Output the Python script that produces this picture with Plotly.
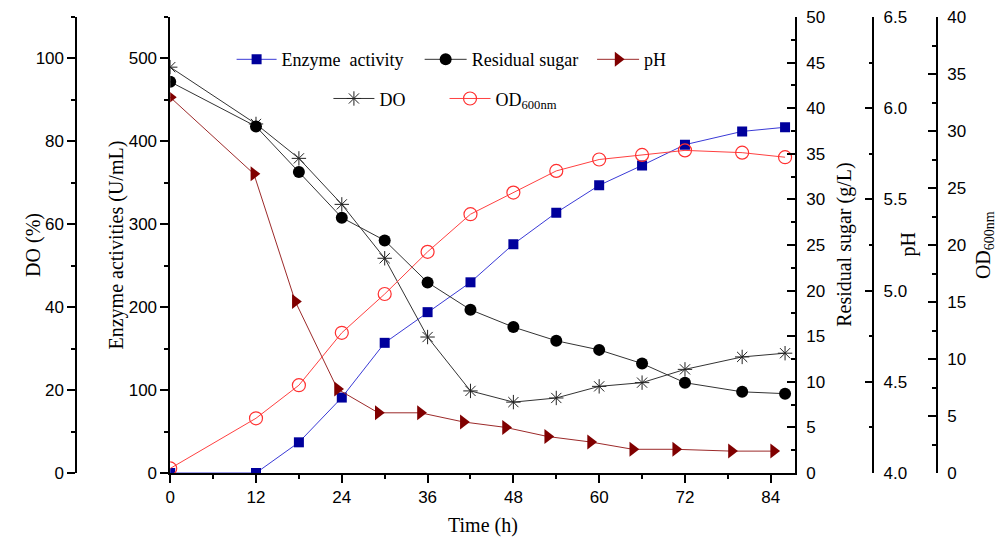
import plotly.graph_objects as go

# ---- data ----
time_h = [0, 12, 18, 24, 30, 36, 42, 48, 54, 60, 66, 72, 80, 86]
enzyme_activity = [0, 0, 37, 91, 157, 194, 230, 276, 314, 347, 371, 396, 412, 417]
residual_sugar = [42.9, 38.0, 33.0, 28.0, 25.5, 20.9, 17.9, 16.0, 14.5, 13.5, 12.0, 9.9, 8.9, 8.7]
do_percent = [97.9, 84.2, 75.9, 64.8, 51.8, 32.8, 19.8, 17.1, 18.1, 20.9, 21.8, 25.0, 28.0, 28.9]
od600 = [0.4, 4.8, 7.7, 12.3, 15.7, 19.4, 22.7, 24.6, 26.5, 27.5, 27.9, 28.3, 28.1, 27.7]
ph_time = [0, 11.7, 17.5, 23.4, 29.1, 35.0, 41.0, 46.9, 52.8, 58.8, 64.7, 70.7, 78.5, 84.4]
ph_values = [6.06, 5.64, 4.94, 4.46, 4.33, 4.33, 4.28, 4.25, 4.20, 4.17, 4.13, 4.13, 4.12, 4.12]

OFF = 8                      # page body margin of the html page
W, H = 1007 - OFF, 543 - OFF
L_PX, R_PX = 166 - OFF, 794 - OFF   # plot area in figure pixels
TOP_PX, BOT_PX = 13 - OFF, 473 - OFF
PH_PX = BOT_PX - TOP_PX
SERIF = "Liberation Serif, Times New Roman, serif"
SANS = "Liberation Sans, Arial, sans-serif"

def xp(px_page):
    return (px_page - OFF) / W

def yp(py_page):
    return (BOT_PX - (py_page - OFF)) / PH_PX

fig = go.Figure()

fig.add_trace(go.Scatter(
    x=time_h, y=enzyme_activity, name="Enzyme\u00a0 activity", yaxis="y",
    mode="lines+markers", line=dict(color="#3a3ad6", width=1),
    marker=dict(symbol="square", size=10, color="#00009c", line=dict(width=0)),
    legend="legend"))
fig.add_trace(go.Scatter(
    x=time_h, y=residual_sugar, name="Residual sugar", yaxis="y3",
    mode="lines+markers", line=dict(color="#333333", width=1),
    marker=dict(symbol="circle", size=12, color="black", line=dict(width=0)),
    legend="legend2"))
fig.add_trace(go.Scatter(
    x=ph_time, y=ph_values, name="pH", yaxis="y4",
    mode="lines+markers", line=dict(color="#9c2a2a", width=1),
    marker=dict(symbol="triangle-right", size=13, color="#800000", line=dict(width=0)),
    legend="legend3"))
fig.add_trace(go.Scatter(
    x=time_h, y=do_percent, name="DO", yaxis="y2",
    mode="lines+markers", line=dict(color="#333333", width=1),
    marker=dict(symbol="asterisk-open", size=12, color="#222222", line=dict(width=1, color="#222222")),
    legend="legend4"))
fig.add_trace(go.Scatter(
    x=time_h, y=od600, name="OD<sub>600nm</sub>", yaxis="y5",
    mode="lines+markers", line=dict(color="#ff4040", width=1),
    marker=dict(symbol="circle-open", size=13, color="#ff3030", line=dict(width=1.2, color="#ff3030")),
    legend="legend5"))

tickfont = dict(family=SANS, size=17, color="black")
common = dict(showgrid=False, zeroline=False, showline=True, linecolor="black",
              linewidth=1.5, tickfont=tickfont, ticklen=8, tickwidth=1.5, tickcolor="black",
              ticklabeloverflow="allow")

def minor(d, side_ticks):
    return dict(dtick=d, ticks=side_ticks, ticklen=4, tickwidth=1.5, tickcolor="black")

legend_font = dict(family=SERIF, size=18, color="black")

def legend_at(line_start_px, text_start_px, row_y_px):
    return dict(orientation="h", x=xp(line_start_px), y=yp(row_y_px),
                xanchor="left", yanchor="middle", bgcolor="rgba(0,0,0,0)",
                font=legend_font, itemwidth=max(30, int(round(text_start_px - line_start_px - 15))))

fig.update_layout(
    width=W, height=H,
    margin=dict(l=0, r=0, t=TOP_PX, b=H - BOT_PX),
    plot_bgcolor="white", paper_bgcolor="white",
    xaxis=dict(domain=[L_PX / W, R_PX / W], range=[0, 87.4], dtick=12, tick0=0,
               ticks="outside", minor=minor(6, "outside"), **common),
    yaxis=dict(range=[0, 550], dtick=100, ticks="outside", side="left", anchor="x",
               minor=minor(50, "outside"), **common),
    yaxis2=dict(range=[0, 110], dtick=20, ticks="outside", side="left", anchor="free",
                overlaying="y", position=xp(71.5), minor=minor(10, "outside"), **common),
    yaxis3=dict(range=[0, 50], dtick=5, ticks="inside", side="right", anchor="x",
                overlaying="y", minor=minor(2.5, "inside"), ticklabelstandoff=6, **common),
    yaxis4=dict(range=[4.0, 6.5], dtick=0.5, tickformat=".1f", ticks="inside", side="right",
                anchor="free", overlaying="y", position=xp(872.7), minor=minor(0.25, "inside"),
                ticklabelstandoff=6, **common),
    yaxis5=dict(range=[0, 40], dtick=5, ticks="inside", side="right", anchor="free",
                overlaying="y", position=xp(936.7), minor=minor(2.5, "inside"),
                ticklabelstandoff=6, **common),
    legend=legend_at(227.7, 282.7, 56),
    legend2=legend_at(416.7, 474, 56),
    legend3=legend_at(590, 646.7, 56),
    legend4=legend_at(325, 381, 95.5),
    legend5=legend_at(441.7, 498, 95.5),
    showlegend=True,
)

title_font = dict(family=SERIF, size=20, color="black")
def vtitle(text, px):
    fig.add_annotation(text=text, x=xp(px), y=yp(243), xref="paper", yref="paper",
                       xanchor="center", yanchor="middle", textangle=-90,
                       showarrow=False, font=title_font)

vtitle("DO (%)", 28)
vtitle("Enzyme activities (U/mL)", 112)
vtitle("Residual sugar (g/L)", 843)
vtitle("pH", 907)
vtitle("OD<sub>600nm</sub>", 984)
fig.add_annotation(text="Time (h)", x=xp(480), y=yp(526),
                   xref="paper", yref="paper", xanchor="center", yanchor="middle",
                   showarrow=False, font=title_font)

fig.write_html("out.html")
